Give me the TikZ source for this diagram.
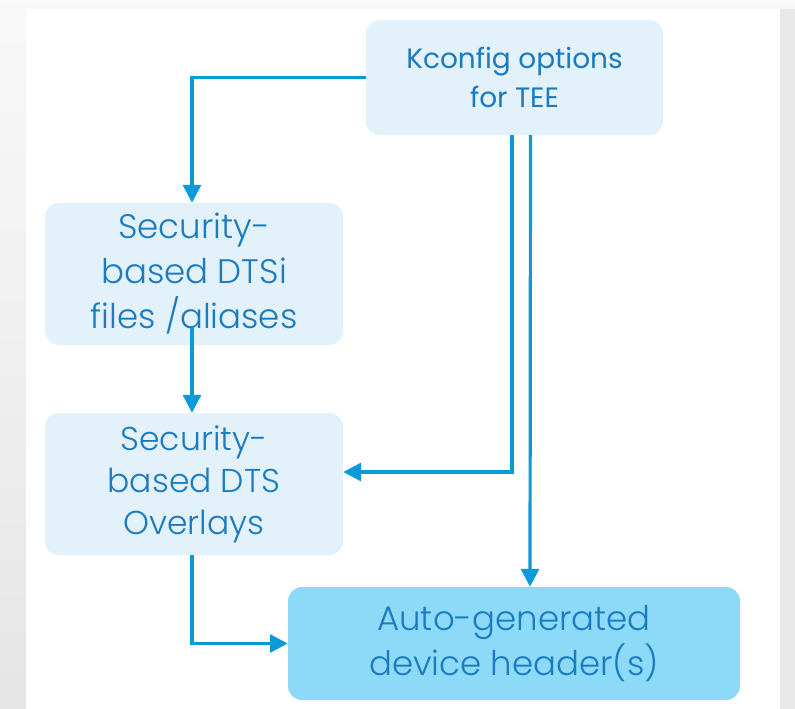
\documentclass[tikz,border=0pt]{standalone}
\usepackage{fontspec}
\setmainfont{Poppins}[UprightFont=* Light]
\newfontfamily\regular{Poppins}
\usetikzlibrary{arrows.meta}
\definecolor{flow}{HTML}{0A9AD8}
\definecolor{ink}{HTML}{1B7BC0}
\definecolor{pale}{HTML}{E2F1FA}
\definecolor{sky}{HTML}{8DDAF8}

\begin{document}
\begin{tikzpicture}[x=1pt, y=-1pt,
    box/.style={fill=pale, rounded corners=14pt, inner sep=0pt, align=center, text=ink, minimum width=298pt, minimum height=142pt, font=\fontsize{34}{45}\selectfont},
    arr/.style={-{Triangle[length=18pt, width=18pt]}, line width=3.2pt, flow}
]
\useasboundingbox (0,0) rectangle (795,709);
\shade[top color=gray!5, bottom color=gray!20] (0,0) rectangle (795,709);
\fill[gray!18] (780,9) rectangle (795,709);
\fill[white] (26,9) rectangle (780,709);

\node[box, minimum width=297pt, minimum height=115pt, font=\regular\fontsize{28}{39}\selectfont] (kconfig) at (514.5,77.5) {Kconfig options\\for TEE};
\node[box] (dtsi) at (194,274) {Security-\\based DTSi\\files /aliases};
\node[box, font=\fontsize{33}{42}\selectfont] (overlay) at (194,484) {Security-\\based DTS\\Overlays};
\node[box, fill=sky, minimum width=452pt, minimum height=113pt, font=\fontsize{34}{45}\selectfont] (auto) at (514,643.5) {Auto-generated\\device header(s)};

\draw[arr] (kconfig.west) -| ([xshift=-2pt]dtsi.north);
\draw[arr] ([xshift=-2pt, yshift=17pt]dtsi.south) -- ([xshift=-2pt]overlay.north);
\draw[arr] ([xshift=-2.5pt]kconfig.south) |- ([yshift=12pt]overlay.east);
\draw[arr] ([xshift=16pt]kconfig.south) -- ([xshift=16pt]auto.north);
\draw[arr] ([xshift=-2pt]overlay.south) |- (auto.west);
\end{tikzpicture}
\end{document}
